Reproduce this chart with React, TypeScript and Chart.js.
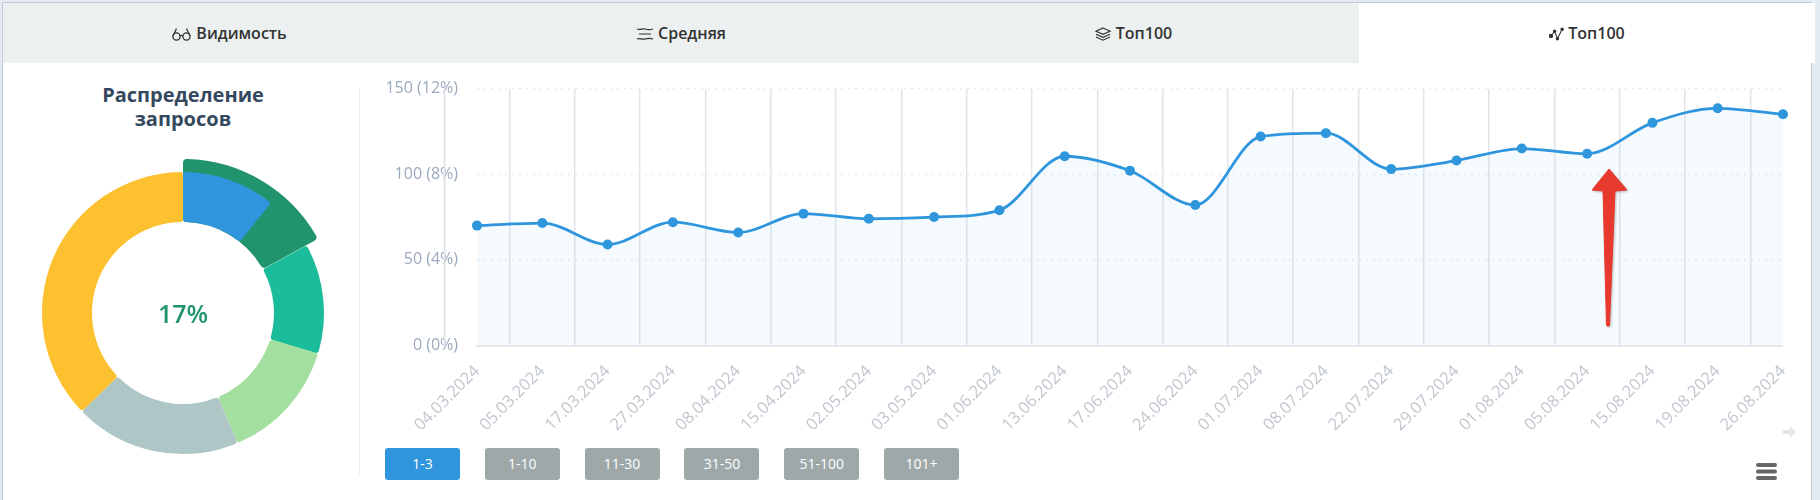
import React, { useEffect, useRef } from "react";
import { Chart, registerables } from "chart.js";

Chart.register(...registerables);

const dates = ["04.03.2024","05.03.2024","17.03.2024","27.03.2024","08.04.2024","15.04.2024","02.05.2024","03.05.2024","01.06.2024","13.06.2024","17.06.2024","24.06.2024","01.07.2024","08.07.2024","22.07.2024","29.07.2024","01.08.2024","05.08.2024","15.08.2024","19.08.2024","26.08.2024"];
const top3Counts = [70,71.5,59,72,66,77,74,75,79,110.5,102,82,122,124,103,108,115,112,130,138.5,135];
const yTickValues = [0,50,100,150];
const yTickLabels: Record<number,string> = {0:"0 (0%)",50:"50 (4%)",100:"100 (8%)",150:"150 (12%)"};
const donutCategories = ["1-3","1-10","11-30","31-50","51-100","101+"];
const selectedShare = 17;
const top3Share = 10.7;
const otherShares = [12.6,14,19,37.2];
const otherColors = ["#1abc9c","#a3df9f","#aec6c6","#fdc02f"];
const tabs = ["Видимость","Средняя","Топ100","Топ100"];

const FONT = "'Open Sans', sans-serif";
const GRID_COLOR = "#e1e5eb";

function Icon({ i }: { i: number }) {
  const s = { width: 18, height: 14, marginRight: 4, verticalAlign: -2 } as React.CSSProperties;
  if (i === 0) return (
    <svg viewBox="0 0 20 14" style={{...s,width:21}} fill="none" stroke="#333" strokeWidth="1.3">
      <circle cx="5" cy="9.5" r="3.6"/><circle cx="15" cy="9.5" r="3.6"/><path d="M8.5 9c1-.8 2-.8 3 0M1.5 9 5 1.5M18.5 9 15 1.5"/>
    </svg>
  );
  if (i === 1) return (
    <svg viewBox="0 0 18 14" style={s} fill="none" stroke="#333" strokeWidth="1.2">
      <path d="M1 2c3 1.5 5-1 8 0s5 1 8 0M3 7h12M1 12c3-1.5 5 1 8 0s5-1 8 0" />
    </svg>
  );
  if (i === 2) return (
    <svg viewBox="0 0 16 14" style={s} fill="none" stroke="#333" strokeWidth="1.2">
      <path d="M8 1 15 4.2 8 7.4 1 4.2Z" /><path d="M1 7.2 8 10.4 15 7.2M1 10 8 13.2 15 10"/>
    </svg>
  );
  return (
    <svg viewBox="0 0 16 14" style={{...s,width:15}} fill="none" stroke="#333" strokeWidth="1.1">
      <path d="M2 9 6 4 9 12 14 2"/><g fill="#333"><circle cx="2" cy="9" r="1.8"/><circle cx="6" cy="4" r="1.3"/><circle cx="9" cy="12" r="1.3"/><circle cx="14" cy="2" r="1.3"/></g>
    </svg>
  );
}

function Donut() {
  const backRef = useRef<HTMLCanvasElement>(null);
  const frontRef = useRef<HTMLCanvasElement>(null);
  useEffect(() => {
    const common = { responsive: false, animation: false as const, plugins: { legend: { display: false }, tooltip: { enabled: false } } };
    const back = new Chart(backRef.current!, {
      type: "doughnut",
      data: { labels: [donutCategories[1], "rest"], datasets: [{ data: [selectedShare, 100 - selectedShare], backgroundColor: ["#21946e", "rgba(0,0,0,0)"], borderWidth: 0, borderRadius: 4 }] },
      options: { ...common, radius: 154, cutout: `${(91 / 154) * 100}%` } as any,
    });
    const front = new Chart(frontRef.current!, {
      type: "doughnut",
      data: {
        labels: [donutCategories[0], "gap", ...donutCategories.slice(2)],
        datasets: [{ data: [top3Share, selectedShare - top3Share, ...otherShares], backgroundColor: ["#2f96dd", "rgba(0,0,0,0)", ...otherColors], borderWidth: 0, borderRadius: 3 }],
      },
      options: { ...common, radius: 141, cutout: `${(91 / 141) * 100}%` } as any,
    });
    return () => { back.destroy(); front.destroy(); };
  }, []);
  const st: React.CSSProperties = { position: "absolute", left: 23, top: 153, width: 320, height: 320 };
  return (
    <>
      <canvas ref={backRef} width={320} height={320} style={st} />
      <canvas ref={frontRef} width={320} height={320} style={st} />
      <div style={{ position: "absolute", left: 123, width: 120, top: 296, height: 34, lineHeight: "34px", textAlign: "center", color: "#21946e", fontSize: 25, fontWeight: 600, fontFamily: FONT }}>{selectedShare}%</div>
    </>
  );
}

const firstGridLine = {
  id: "firstGridLine",
  beforeDatasetsDraw(chart: any) {
    const { ctx, chartArea, scales } = chart;
    const px = scales.gridX.getPixelForValue(-0.5);
    ctx.save();
    ctx.strokeStyle = GRID_COLOR;
    ctx.lineWidth = 1.5;
    ctx.beginPath();
    ctx.moveTo(px, chartArea.top);
    ctx.lineTo(px, chartArea.bottom);
    ctx.stroke();
    ctx.restore();
  },
};

function Trend() {
  const ref = useRef<HTMLCanvasElement>(null);
  useEffect(() => {
    const chart = new Chart(ref.current!, {
      type: "line",
      plugins: [firstGridLine],
      data: {
        datasets: [{
          data: top3Counts.map((y, x) => ({ x, y })),
          borderColor: "#2f96dd",
          borderWidth: 2.8,
          backgroundColor: "rgba(47,150,221,0.05)",
          fill: "origin",
          cubicInterpolationMode: "monotone",
          pointRadius: 5,
          pointBackgroundColor: "#2f96dd",
          pointBorderWidth: 0,
          clip: false,
        }],
      },
      options: {
        responsive: false,
        animation: false,
        plugins: { legend: { display: false }, tooltip: { enabled: false } },
        scales: {
          x: {
            type: "linear", min: 0, max: dates.length - 1,
            afterBuildTicks: (a: any) => { a.ticks = dates.map((_, i) => ({ value: i })); },
            grid: { display: false },
            border: { color: "#e6e9ed", width: 2 },
            ticks: {
              autoSkip: false, maxRotation: 45, minRotation: 45, padding: 8,
              color: "#c2c7cf", font: { family: FONT, size: 16.5 },
              callback: (v: any) => dates[v],
            },
          },
          gridX: {
            type: "linear", position: "bottom", min: 0, max: dates.length - 1,
            afterBuildTicks: (a: any) => { a.ticks = dates.map((_, i) => ({ value: i - 0.5 })); },
            afterFit: (a: any) => { a.height = 0; },
            grid: { color: GRID_COLOR, lineWidth: 1.5, drawTicks: false },
            border: { display: false },
            ticks: { display: false, autoSkip: false },
          },
          y: {
            min: 0, max: 150,
            afterBuildTicks: (a: any) => { a.ticks = yTickValues.map((value) => ({ value })); },
            afterFit: (a: any) => { a.width = 146; },
            grid: { color: "#e6e9ed", lineWidth: 1.2, drawTicks: false },
            border: { display: false, dash: [2, 5] },
            ticks: { autoSkip: false, padding: 19, color: "#9aa9bd", font: { family: FONT, size: 16 }, callback: (v: any) => yTickLabels[v] },
          },
        },
      } as any,
    });
    return () => chart.destroy();
  }, []);
  return <canvas ref={ref} width={1474} height={383} style={{ position: "absolute", left: 331, top: 60, width: 1474, height: 383 }} />;
}

export default function App() {
  useEffect(() => { document.body.style.margin = "0"; document.body.style.background = "#e4eaf2"; }, []);
  return (
    <div style={{ position: "absolute", left: 0, top: 0, width: 1820, height: 500, overflow: "hidden", background: "#e4eaf2", fontFamily: FONT }}>
      <div style={{ position: "absolute", left: 2, top: 2, width: 1810, height: 498, background: "#fff", border: "1px solid #c3cbd6", borderBottom: "none", boxSizing: "border-box" }} />
      {tabs.map((t, i) => (
        <div key={i} style={{ position: "absolute", left: 3 + i * 452, top: 3, width: i === 3 ? 456 : 452, height: 60, lineHeight: "60px", textAlign: "center", background: i === 3 ? "#fff" : "#ecf0f1", color: "#333", fontSize: 16, fontWeight: 600 }}>
          <Icon i={i} />{t}
        </div>
      ))}
      <div style={{ position: "absolute", left: 23, width: 320, top: 83, textAlign: "center", color: "#34495e", fontSize: 20, fontWeight: 700, lineHeight: "24px" }}>Распределение<br />запросов</div>
      <Donut />
      <div style={{ position: "absolute", left: 359, top: 88, width: 1, height: 386, background: "#e9ecef" }} />
      <Trend />
      {donutCategories.map((c, i) => (
        <div key={c} style={{ position: "absolute", left: 385 + i * 99.8, top: 448, width: 75, height: 32, lineHeight: "32px", textAlign: "center", borderRadius: 3, background: i === 0 ? "#2f96dd" : "#9ea8a8", color: "#fff", fontSize: 14 }}>{c}</div>
      ))}
      <svg style={{ position: "absolute", left: 1570, top: 160, width: 80, height: 180, filter: "drop-shadow(1px 1px 1px rgba(0,0,0,0.25))" }} viewBox="0 0 80 180">
        <path d="M39 9 L57 30 L45 31 L39.5 165 Q38 168 36.5 165 L33 31 L22 30 Z" fill="#e8392e" stroke="#e8392e" strokeWidth="1" strokeLinejoin="round" />
      </svg>
      <svg style={{ position: "absolute", left: 1783, top: 425, width: 14, height: 14 }} viewBox="0 0 14 14"><path d="M0 5h7V1l6 6-6 6V9H0Z" fill="#e3e6e9" /></svg>
      <svg style={{ position: "absolute", left: 1756, top: 463, width: 21, height: 17 }} viewBox="0 0 21 17"><g fill="#666"><rect y="0" width="21" height="4" rx="2" /><rect y="6.5" width="21" height="4" rx="2" /><rect y="13" width="21" height="4" rx="2" /></g></svg>
    </div>
  );
}
